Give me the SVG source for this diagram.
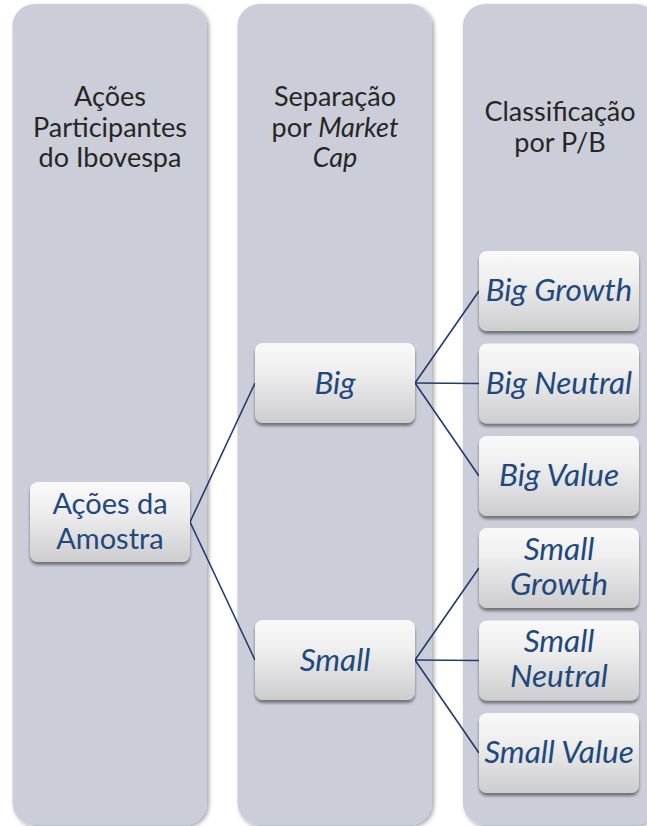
<svg xmlns="http://www.w3.org/2000/svg" width="647" height="826" viewBox="0 0 647 826">
  <defs>
    <linearGradient id="nodeFill" x1="0" y1="0" x2="0" y2="1">
      <stop offset="0" stop-color="#f9f9fa"/>
      <stop offset="0.35" stop-color="#efeff0"/>
      <stop offset="1" stop-color="#cdcdcf"/>
    </linearGradient>
    <filter id="colShadow" x="-10%" y="-5%" width="125%" height="115%">
      <feGaussianBlur in="SourceAlpha" stdDeviation="2"/>
      <feOffset dx="2" dy="2" result="b"/>
      <feComponentTransfer><feFuncA type="linear" slope="0.35"/></feComponentTransfer>
      <feMerge><feMergeNode/><feMergeNode in="SourceGraphic"/></feMerge>
    </filter>
    <filter id="nodeShadow" x="-10%" y="-10%" width="125%" height="135%">
      <feGaussianBlur in="SourceAlpha" stdDeviation="1.6"/>
      <feOffset dx="0" dy="3" result="b"/>
      <feComponentTransfer><feFuncA type="linear" slope="0.45"/></feComponentTransfer>
      <feMerge><feMergeNode/><feMergeNode in="SourceGraphic"/></feMerge>
    </filter>
  </defs>
  <style>
    .col { fill: #cbced8; filter: url(#colShadow); }
    .head { font-family: "Lato", "Liberation Sans", sans-serif; font-size: 27px; fill: #262626; text-anchor: middle; }
    .node rect { fill: url(#nodeFill); filter: url(#nodeShadow); }
    .node text { font-family: "Lato", "Liberation Sans", sans-serif; font-size: 29px; fill: #1f497d; text-anchor: middle; }
    .node text.it { font-style: italic; font-size: 31.5px; }
    .it { font-style: italic; }
    .links path { fill: none; stroke: #1f3c6b; stroke-width: 1.6; }
  </style>

  <rect width="647" height="826" fill="#ffffff"/>

  <!-- column backgrounds -->
  <g id="columns">
    <rect class="col" x="12.5" y="4" width="194.5" height="821" rx="22"/>
    <rect class="col" x="237.5" y="4" width="194.5" height="821" rx="22"/>
    <rect class="col" x="463" y="4" width="194.5" height="821" rx="22"/>
  </g>

  <!-- column headings -->
  <g id="head-1">
    <text class="head" x="110" y="106">Ações</text>
    <text class="head" x="110" y="137">Participantes</text>
    <text class="head" x="110" y="167">do Ibovespa</text>
  </g>
  <g id="head-2">
    <text class="head" x="335" y="106">Separação</text>
    <text class="head" x="335" y="137">por <tspan class="it">Market</tspan></text>
    <text class="head" x="335" y="167" font-style="italic">Cap</text>
  </g>
  <g id="head-3">
    <text class="head" x="560" y="121">Classificação</text>
    <text class="head" x="560" y="152">por P/B</text>
  </g>

  <!-- connectors -->
  <g class="links" id="connectors">
    <path d="M190 522 L255 383"/>
    <path d="M190 522 L255 660"/>
    <path d="M415 383 L479 291"/>
    <path d="M415 383 L479 383.5"/>
    <path d="M415 383 L479 476"/>
    <path d="M415 660 L479 568"/>
    <path d="M415 660 L479 660.5"/>
    <path d="M415 660 L479 753"/>
  </g>

  <!-- nodes -->
  <g class="node" id="acoes-amostra">
    <rect x="30" y="482" width="160" height="80" rx="8"/>
    <text x="110" y="514">Ações da</text>
    <text x="110" y="549">Amostra</text>
  </g>
  <g class="node" id="big">
    <rect x="255" y="343" width="160" height="80" rx="8"/>
    <text class="it" x="335" y="394">Big</text>
  </g>
  <g class="node" id="small">
    <rect x="255" y="620" width="160" height="80" rx="8"/>
    <text class="it" x="335" y="671">Small</text>
  </g>
  <g class="node" id="big-growth">
    <rect x="479" y="251" width="160" height="80" rx="8"/>
    <text class="it" x="559" y="301">Big Growth</text>
  </g>
  <g class="node" id="big-neutral">
    <rect x="479" y="343.5" width="160" height="80" rx="8"/>
    <text class="it" x="559" y="394">Big Neutral</text>
  </g>
  <g class="node" id="big-value">
    <rect x="479" y="436" width="160" height="80" rx="8"/>
    <text class="it" x="559" y="486">Big Value</text>
  </g>
  <g class="node" id="small-growth">
    <rect x="479" y="528" width="160" height="80" rx="8"/>
    <text class="it" x="559" y="560">Small</text>
    <text class="it" x="559" y="595">Growth</text>
  </g>
  <g class="node" id="small-neutral">
    <rect x="479" y="620.5" width="160" height="80" rx="8"/>
    <text class="it" x="559" y="652">Small</text>
    <text class="it" x="559" y="687">Neutral</text>
  </g>
  <g class="node" id="small-value">
    <rect x="479" y="713" width="160" height="80" rx="8"/>
    <text class="it" x="559" y="763">Small Value</text>
  </g>
</svg>
